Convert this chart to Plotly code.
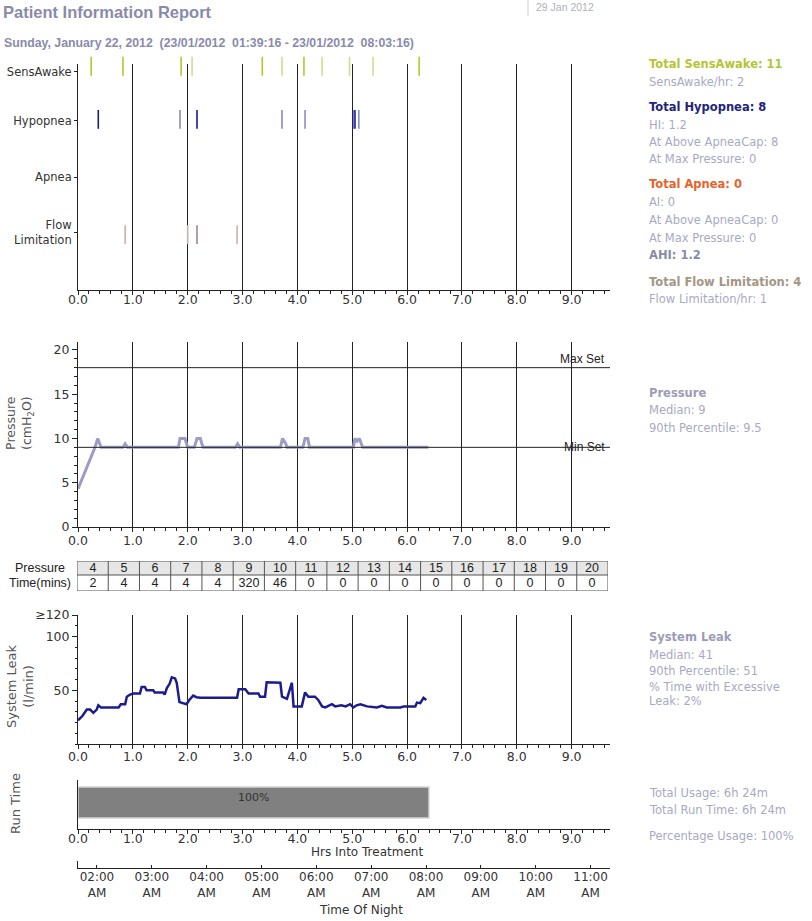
import plotly.graph_objects as go
from datetime import datetime

# ---------------- data ----------------
START_TIME = "01:39:16"
RUN_HOURS = 6.4  # 6h 24m

SENS_HRS = [0.24, 0.82, 1.88, 2.08, 3.36, 3.72, 4.12, 4.45, 4.95, 5.38, 6.22]
SENS_STRONG = [1, 1, 1, 0, 1, 0, 1, 0, 0, 0, 1]
HYP_HRS = [0.37, 1.86, 2.17, 3.72, 4.14, 5.01, 5.05, 5.12]
HYP_STRONG = [1, 0, 1, 0, 0, 1, 1, 0]
APNEA_HRS = []
FLOW_HRS = [0.86, 2.00, 2.17, 2.90]
FLOW_STRONG = [0, 0, 1, 0]

PRESS_HRS = [0.00, 0.31, 0.36, 0.42, 0.82, 0.86, 0.90, 1.83, 1.86, 1.95, 2.00, 2.12,
             2.17, 2.23, 2.28, 2.87, 2.91, 2.95, 3.69, 3.73, 3.79, 3.81, 4.10, 4.14,
             4.19, 4.22, 5.02, 5.05, 5.09, 5.13, 5.19, 6.39]
PRESS_VAL = [4.3, 9.0, 10.0, 9.0, 9.0, 9.4, 9.0, 9.0, 10.0, 10.0, 9.0, 9.0,
             10.0, 10.0, 9.0, 9.0, 9.4, 9.0, 9.0, 10.0, 9.4, 9.0, 9.0, 10.0,
             10.0, 9.0, 9.0, 10.0, 9.7, 10.0, 9.0, 9.0]
MAX_SET = 18
MIN_SET = 9

PRESSURE_LEVELS = [4, 5, 6, 7, 8, 9, 10, 11, 12, 13, 14, 15, 16, 17, 18, 19, 20]
PRESSURE_MINUTES = [2, 4, 4, 4, 4, 320, 46, 0, 0, 0, 0, 0, 0, 0, 0, 0, 0]

LEAK_HRS = [0.00, 0.08, 0.16, 0.22, 0.28, 0.34, 0.37, 0.42, 0.46, 0.74, 0.78, 0.86,
            0.89, 0.95, 1.01, 1.13, 1.16, 1.22, 1.25, 1.37, 1.40, 1.55, 1.58, 1.62,
            1.67, 1.71, 1.77, 1.80, 1.85, 1.98, 2.03, 2.10, 2.16, 2.23, 2.90, 2.93,
            3.05, 3.11, 3.29, 3.32, 3.41, 3.44, 3.69, 3.72, 3.81, 3.86, 3.90, 3.93,
            4.08, 4.14, 4.20, 4.32, 4.38, 4.45, 4.51, 4.63, 4.69, 4.80, 4.88, 4.96,
            5.02, 5.08, 5.15, 5.27, 5.45, 5.54, 5.63, 5.88, 5.94, 6.15, 6.18, 6.24,
            6.30, 6.35]
LEAK_VAL = [22, 26, 32, 32, 29, 32, 36, 34, 34, 34, 37, 37,
            44, 46, 47, 47, 53, 53, 50, 50, 48, 48, 46, 52,
            56, 62, 61, 57, 39, 37, 41, 45, 43.5, 43, 43, 51,
            51, 47, 47, 44, 44, 57.5, 57, 44, 42, 50, 57, 35,
            35, 48, 44, 44, 41, 35, 34, 37, 35, 36, 35, 37,
            34, 36, 37, 35, 34, 35.5, 34, 34, 35, 35, 38.5, 38,
            43, 41]
assert len(LEAK_HRS) == len(LEAK_VAL)
assert len(PRESS_HRS) == len(PRESS_VAL)

EVENT_ROWS = ["SensAwake", "Hypopnea", "Apnea", "Flow<br>Limitation"]
X_TICKS = [0, 1, 2, 3, 4, 5, 6, 7, 8, 9]
TIME_LABELS = ["02:00", "03:00", "04:00", "05:00", "06:00", "07:00", "08:00",
               "09:00", "10:00", "11:00"]

GREY_TXT = "#a9a9c2"
STATS_EVENTS = [
    ("Total SensAwake: 11", "#b3c534", True),
    ("SensAwake/hr: 2", GREY_TXT, False),
    ("Total Hypopnea: 8", "#23237a", True),
    ("HI: 1.2", GREY_TXT, False),
    ("At Above ApneaCap: 8", GREY_TXT, False),
    ("At Max Pressure: 0", GREY_TXT, False),
    ("Total Apnea: 0", "#e8622c", True),
    ("AI: 0", GREY_TXT, False),
    ("At Above ApneaCap: 0", GREY_TXT, False),
    ("At Max Pressure: 0", GREY_TXT, False),
    ("AHI: 1.2", "#8a8aa6", True),
    ("Total Flow Limitation: 4", "#a39684", True),
    ("Flow Limitation/hr: 1", GREY_TXT, False),
]
STATS_PRESSURE = [("Pressure", "#9c9cb8", True), ("Median: 9", GREY_TXT, False),
                  ("90th Percentile: 9.5", GREY_TXT, False)]
STATS_LEAK = [("System Leak", "#9c9cb8", True), ("Median: 41", GREY_TXT, False),
              ("90th Percentile: 51", GREY_TXT, False),
              ("% Time with Excessive", GREY_TXT, False), ("Leak: 2%", GREY_TXT, False)]
STATS_USAGE = [("Total Usage: 6h 24m", GREY_TXT, False),
               ("Total Run Time: 6h 24m", GREY_TXT, False),
               ("Percentage Usage: 100%", GREY_TXT, False)]

# ---------------- layout helpers ----------------
FW, FH = 812, 921
BG = "#ffffff"

def px(x):
    return x / FW
def py(y):
    return 1 - y / FH

XL, XR = 78, 610
XRANGE = [0, 9.7]
AXC = "#222"
TICKFONT = dict(family="DejaVu Sans", size=12.5, color="#333")

def xax(anchor, grid, standoff):
    return dict(domain=[px(XL), px(XR)], range=XRANGE, anchor=anchor, automargin=False,
                showline=True, linecolor=AXC, linewidth=1,
                ticks="outside", ticklen=4, tickcolor=AXC,
                tickmode="array", tickvals=X_TICKS,
                ticktext=[f"{v:.1f}" for v in X_TICKS],
                ticklabelstandoff=standoff,
                showgrid=grid, gridcolor=AXC, gridwidth=1, zeroline=False,
                tickfont=TICKFONT,
                minor=dict(dtick=0.2, tick0=0, ticks="outside", ticklen=3,
                           tickcolor=AXC, showgrid=False),
                fixedrange=True)

fig = go.Figure()

# ---- events panel ----
ROW_Y = [9.65, 7.5, 5.0, 2.55]
MARK_Y = [9.9, 7.55, 5.0, 2.45]

def event_trace(hrs, strong, row, c_strong, c_weak):
    return go.Scatter(x=hrs, y=[MARK_Y[row]] * len(hrs), mode="markers",
                      xaxis="x", yaxis="y", cliponaxis=False, hoverinfo="skip",
                      marker=dict(symbol="line-ns-open", size=13.5,
                                  color=[c_strong if s else c_weak for s in strong],
                                  line=dict(width=1.6)))

fig.add_trace(event_trace(SENS_HRS, SENS_STRONG, 0, "#b5c62a", "#d3dc8c"))
fig.add_trace(event_trace(HYP_HRS, HYP_STRONG, 1, "#1d1d80", "#8a8ac4"))
fig.add_trace(event_trace(APNEA_HRS, [], 2, "#e8622c", "#e8622c"))
fig.add_trace(event_trace(FLOW_HRS, FLOW_STRONG, 3, "#9a8a80", "#c4b4ac"))

# ---- pressure panel ----
fig.add_trace(go.Scatter(x=PRESS_HRS, y=PRESS_VAL, mode="lines", xaxis="x2", yaxis="y2",
                         line=dict(color="#9c9cc4", width=3), hoverinfo="skip"))

# ---- pressure table (heatmap cells on their own axes) ----
n_cols = len(PRESSURE_LEVELS)
col_edges = [k - 0.5 for k in range(n_cols + 1)]
row_edges = [0, 16, 30]           # time row (bottom), pressure row (top)
fig.add_trace(go.Heatmap(
    x=col_edges, y=row_edges, z=[[0] * n_cols, [1] * n_cols],
    colorscale=[[0, "#ffffff"], [1, "#e6e6e6"]], zmin=0, zmax=1, showscale=False,
    text=[[str(m) for m in PRESSURE_MINUTES], [str(p) for p in PRESSURE_LEVELS]],
    texttemplate="%{text}", hoverinfo="skip",
    textfont=dict(family="Liberation Sans", size=12.5, color="#222"),
    xaxis="x6", yaxis="y6"))
for xe in col_edges:
    fig.add_shape(type="line", xref="x6", yref="y6", x0=xe, x1=xe, y0=row_edges[0],
                  y1=row_edges[-1], line=dict(color="#555", width=1), layer="above")
for ye in row_edges:
    fig.add_shape(type="line", xref="x6", yref="y6", x0=col_edges[0], x1=col_edges[-1],
                  y0=ye, y1=ye, line=dict(color="#555", width=1), layer="above")

# ---- leak panel ----
fig.add_trace(go.Scatter(x=LEAK_HRS, y=LEAK_VAL, mode="lines", xaxis="x3", yaxis="y3",
                         line=dict(color="#1c1c8c", width=2.5), hoverinfo="skip"))

# ---- run time panel ----
fig.add_trace(go.Bar(x=[RUN_HOURS], y=[0], base=0, orientation="h", width=0.63,
                     xaxis="x4", yaxis="y4", hoverinfo="skip",
                     marker=dict(color="#808080", line=dict(color="#d4d4d4", width=1.5))))

# time of night ticks
t0 = datetime.strptime(START_TIME, "%H:%M:%S")
first_hour_offset = (60 - t0.minute - t0.second / 60) / 60.0
TIME_POS = [first_hour_offset + k for k in range(len(TIME_LABELS))]

fig.add_trace(go.Scatter(x=[0], y=[0], mode="markers", xaxis="x5", yaxis="y5",
                         marker=dict(opacity=0), hoverinfo="skip"))

def yax(domain, anchor, **kw):
    d = dict(domain=domain, anchor=anchor, automargin=False, showline=True,
             linecolor=AXC, tickcolor=AXC, showgrid=False, zeroline=False,
             fixedrange=True)
    d.update(kw)
    return d

layout = dict(
    width=FW, height=FH, margin=dict(l=0, r=0, t=0, b=0, pad=0, autoexpand=False),
    paper_bgcolor=BG, plot_bgcolor=BG, showlegend=False,
    font=dict(family="DejaVu Sans", color="#333"),
    xaxis=xax("y", True, -6),
    yaxis=yax([py(290), py(64)], "x", range=[0, 10], ticks="outside", ticklen=3,
              tickmode="array", tickvals=ROW_Y, ticktext=EVENT_ROWS,
              tickfont=dict(family="DejaVu Sans", size=11.5, color="#333")),
    xaxis2=xax("y2", True, -2),
    yaxis2=yax([py(527), py(342)], "x2", range=[0, 20.9], ticks="outside", ticklen=5,
               dtick=5, tick0=0, tickfont=TICKFONT,
               minor=dict(dtick=1, ticks="outside", ticklen=3, tickcolor=AXC)),
    xaxis3=xax("y3", True, -3),
    yaxis3=yax([py(744), py(615)], "x3", range=[0, 120], ticks="outside", ticklen=5,
               tickmode="array", tickvals=[50, 100, 120], ticktext=["50", "100", "≥120"],
               tickfont=TICKFONT,
               minor=dict(dtick=10, ticks="outside", ticklen=2, tickcolor=AXC)),
    xaxis4=xax("y4", False, -6),
    yaxis4=yax([py(829), py(780)], "x4", range=[-0.54, 0.46], ticks="",
               showticklabels=False),
    xaxis5=dict(domain=[px(XL), px(XR)], range=XRANGE, anchor="y5", automargin=False,
                showline=True, linecolor=AXC, ticks="inside", ticklen=3, tickcolor=AXC,
                tickmode="array", tickvals=TIME_POS,
                ticktext=[f"{t}<br>AM" for t in TIME_LABELS],
                ticklabelstandoff=-2,
                tickfont=dict(family="DejaVu Sans", size=12, color="#333"),
                showgrid=False, zeroline=False, fixedrange=True),
    yaxis5=yax([py(868), py(861)], "x5", range=[0, 1], ticks="", showticklabels=False),
    xaxis6=dict(domain=[px(77), px(608)], range=[col_edges[0], col_edges[-1]],
                anchor="y6", visible=False, automargin=False, fixedrange=True),
    yaxis6=dict(domain=[py(591), py(561)], range=[row_edges[0], row_edges[-1]],
                anchor="x6", visible=False, automargin=False, fixedrange=True),
)
fig.update_layout(**layout)

# Max / Min set lines
for val, label, yanchor in [(MAX_SET, "Max Set", "bottom"), (MIN_SET, "Min Set", "middle")]:
    fig.add_shape(type="line", xref="x2", yref="y2", x0=XRANGE[0], x1=XRANGE[1],
                  y0=val, y1=val, line=dict(color=AXC, width=1))
    fig.add_annotation(xref="x2", yref="y2", x=9.65, y=val, text=label, showarrow=False,
                       xanchor="right", yanchor=yanchor,
                       font=dict(family="Liberation Sans", size=12, color="#222"))

# run time label
fig.add_annotation(xref="x4", yref="y4", x=RUN_HOURS / 2, y=0.28, text="100%",
                   showarrow=False, xanchor="center", yanchor="top",
                   font=dict(family="DejaVu Sans", size=11, color="#333"))

def pann(x, y, text, size=11, color="#333", bold=False, xanchor="left",
         yanchor="middle", angle=0, family="DejaVu Sans", align="left"):
    if bold:
        text = f"<b>{text}</b>"
    fig.add_annotation(xref="paper", yref="paper", x=px(x), y=py(y), text=text,
                       showarrow=False, xanchor=xanchor, yanchor=yanchor,
                       textangle=angle, align=align,
                       font=dict(family=family, size=size, color=color))

# axis titles
pann(19, 423, "Pressure<br>(cmH<sub>2</sub>O)", size=12.5, color="#555",
     xanchor="center", angle=-90, align="center")
pann(20, 686, "System Leak<br>(l/min)", size=13, color="#555",
     xanchor="center", angle=-90, align="center")
pann(15, 804, "Run Time", size=13, color="#555", xanchor="center", angle=-90)
pann(367, 852, "Hrs Into Treatment", size=12, color="#333", xanchor="center")
pann(361, 910, "Time Of Night", size=12, color="#333", xanchor="center")

# table row labels
pann(40, 568, "Pressure", size=12.5, color="#222", xanchor="center", family="Liberation Sans")
pann(40, 583, "Time(mins)", size=12.5, color="#222", xanchor="center", family="Liberation Sans")

# header
pann(1, 12, "Patient Information Report", size=16.5, color="#8a8aab", bold=True,
     family="Liberation Sans")
pann(2, 43, "Sunday, January 22, 2012  (23/01/2012  01:39:16 - 23/01/2012  08:03:16)",
     size=12.3, color="#8a8aab", bold=True, family="Liberation Sans")
pann(534, 7, "29 Jan 2012", size=10.5, color="#b0b0b8", family="Liberation Sans")
fig.add_shape(type="line", xref="paper", yref="paper", x0=px(528), x1=px(528),
              y0=py(0), y1=py(16), line=dict(color="#d0d0d8", width=1))

# right column statistics
SZ = 11.5
ev_y = [64, 82, 107, 125, 142, 159, 184, 202, 220, 238, 255, 282, 299]
for (txt, col, b), yy in zip(STATS_EVENTS, ev_y):
    pann(647, yy, txt, size=SZ, color=col, bold=b)
for (txt, col, b), yy in zip(STATS_PRESSURE, [393, 410, 428]):
    pann(647, yy, txt, size=SZ, color=col, bold=b)
for (txt, col, b), yy in zip(STATS_LEAK, [637, 655, 671, 687, 701]):
    pann(647, yy, txt, size=SZ, color=col, bold=b)
for (txt, col, b), yy in zip(STATS_USAGE, [793, 810, 836]):
    pann(647, yy, txt, size=SZ, color=col, bold=b)

fig.write_html("out.html", config={"displayModeBar": False},
               post_script="document.body.style.margin='0';")
